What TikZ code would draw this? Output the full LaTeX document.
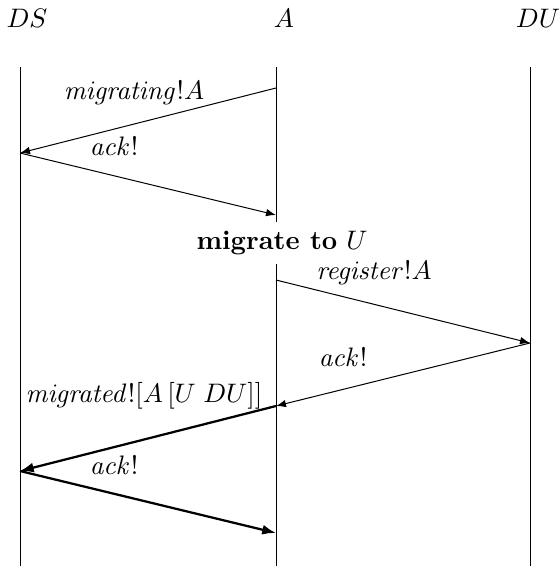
\documentclass[tikz,border=0pt]{standalone}
\usepackage{amssymb,amsmath}
\usepackage{tikz}
\usetikzlibrary{arrows.meta}

\begin{document}
\begin{tikzpicture}[x=0.4pt,y=-0.4pt]
\tikzset{>={Latex[length=4pt,width=3pt]}}
\tikzstyle{lifeline}=[draw,line width=0.4pt]
\tikzstyle{msg}=[->,line width=0.4pt]
\tikzstyle{bmsg}=[->,line width=0.9pt,>={Latex[length=5.5pt,width=4pt]}]
\tikzstyle{lbl}=[inner sep=0pt,scale=1.07]

\useasboundingbox (0,0) rectangle (559,568);

% process names
\node[lbl](ds) at (27,18){$DS$};
\node[lbl](a) at (284,18){$A$};
\node[lbl](du) at (538,18){$DU$};

% lifelines
\coordinate (dsTop) at (20,67);  \coordinate (dsBot) at (20,566);
\coordinate (aTop) at (276,67);  \coordinate (aBot) at (276,566);
\coordinate (duTop) at (530,67); \coordinate (duBot) at (530,566);
\draw[lifeline] (dsTop) -- (dsBot);
\draw[lifeline] (aTop) -- (aBot);
\draw[lifeline] (duTop) -- (duBot);

% points on the lifelines
\coordinate (a1) at (276,88);
\coordinate (ds1) at (20,153);
\coordinate (a2) at (276,215);
\coordinate (a3) at (276,280);
\coordinate (du1) at (530,343);
\coordinate (a4) at (276,406);
\coordinate (ds2) at (20,471);
\coordinate (a5) at (276,533);

% messages
\draw[msg] (a1) -- (ds1);
\draw[msg] (ds1) -- (a2);
\draw[msg] (a3) -- (du1);
\draw[msg] (du1) -- (a4);
\draw[bmsg] (a4) -- (ds2);
\draw[bmsg] (ds2) -- (a5);

% message labels
\node[lbl](l1) at (134,93){$\mathit{migrating}!A$};
\node[lbl](l2) at (114,146){$\mathit{ack}!$};
\node[fill=white,scale=1.07](mig) at (282,243){\textbf{migrate to} $U$};
\node[lbl](l3) at (374,273){$\mathit{register}!A$};
\node[lbl](l4) at (343,357){$\mathit{ack}!$};
\node[lbl](l5) at (144,396){$\mathit{migrated}![A\,[U\;DU]]$};
\node[lbl](l6) at (114,465){$\mathit{ack}!$};

\end{tikzpicture}
\end{document}
